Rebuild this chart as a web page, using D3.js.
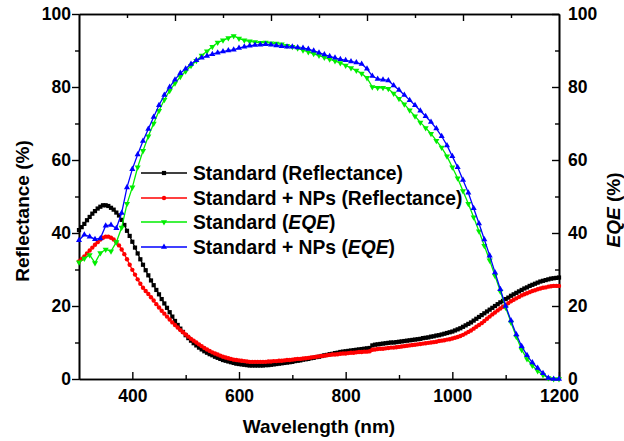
<!DOCTYPE html>
<html><head><meta charset="utf-8">
<script src="https://cdn.jsdelivr.net/npm/d3@7"></script>
<style>
body{margin:0;background:#fff}
svg text{font-family:"Liberation Sans",Arial,Helvetica,sans-serif;font-weight:bold;fill:#000}
</style>
</head><body>
<svg id="chart" width="624" height="441"></svg>
<script>
// ---------- data ----------
const reflStart = 300, reflStep = 5;   // reflectance sampled every 5 nm, 300..1200
const eqeStart = 300, eqeStep = 10;    // EQE sampled every 10 nm, 300..1200

const reflStandard = [
 40.8,41.6,42.5,43.5,44.4,45.3,46.0,46.7,47.2,47.6,
 47.6,47.4,46.9,46.4,45.6,44.8,43.6,42.2,40.6,39.2,
 37.6,36.0,34.4,32.8,31.3,29.8,28.4,27.0,25.7,24.4,
 23.2,21.9,20.7,19.5,18.3,17.1,15.9,14.8,13.8,12.9,
 12.0,11.2,10.5,9.8,9.2,8.6,8.1,7.6,7.2,6.8,
 6.5,6.1,5.8,5.5,5.2,5.0,4.8,4.6,4.4,4.2,
 4.1,4.0,3.9,3.8,3.7,3.7,3.7,3.7,3.7,3.7,
 3.8,3.8,3.9,4.0,4.1,4.2,4.3,4.4,4.5,4.6,
 4.7,4.9,5.0,5.1,5.3,5.4,5.5,5.7,5.8,6.0,
 6.1,6.3,6.5,6.6,6.8,6.9,7.1,7.2,7.4,7.5,
 7.6,7.7,7.8,7.9,8.0,8.1,8.2,8.3,8.4,8.5,
 9.2,9.4,9.5,9.6,9.7,9.8,9.9,10.0,10.0,10.1,
 10.2,10.3,10.4,10.5,10.6,10.7,10.8,10.9,11.0,11.2,
 11.3,11.4,11.6,11.7,11.9,12.0,12.2,12.4,12.6,12.8,
 13.0,13.3,13.6,13.9,14.3,14.7,15.1,15.5,16.0,16.5,
 17.0,17.5,18.0,18.5,19.0,19.5,20.0,20.5,21.0,21.4,
 21.9,22.3,22.8,23.2,23.6,24.0,24.4,24.8,25.1,25.5,
 25.8,26.1,26.4,26.7,26.9,27.1,27.3,27.5,27.6,27.7,
 27.8
];
const reflNPs = [
 32.2,32.9,33.6,34.4,35.2,36.0,36.8,37.5,38.2,38.7,
 39.0,39.0,38.7,38.2,37.5,36.6,35.5,34.2,32.8,31.3,
 29.9,28.6,27.3,26.1,25.0,24.1,23.3,22.4,21.5,20.5,
 19.6,18.7,17.9,17.1,16.3,15.5,14.8,14.1,13.4,12.8,
 12.2,11.6,11.0,10.5,10.0,9.5,9.0,8.5,8.1,7.7,
 7.3,7.0,6.7,6.4,6.1,5.9,5.7,5.5,5.3,5.2,
 5.1,5.0,4.9,4.8,4.7,4.7,4.7,4.7,4.7,4.7,
 4.7,4.8,4.8,4.9,4.9,5.0,5.0,5.1,5.2,5.2,
 5.3,5.4,5.5,5.5,5.6,5.7,5.8,5.9,6.0,6.1,
 6.2,6.3,6.4,6.5,6.6,6.7,6.7,6.8,6.9,7.0,
 7.0,7.1,7.2,7.2,7.3,7.4,7.4,7.5,7.5,7.6,
 8.0,8.1,8.2,8.3,8.3,8.4,8.5,8.6,8.6,8.7,
 8.8,8.9,9.0,9.1,9.2,9.3,9.4,9.5,9.6,9.7,
 9.8,9.9,10.0,10.1,10.2,10.4,10.5,10.6,10.8,10.9,
 11.1,11.3,11.5,11.8,12.1,12.5,12.9,13.3,13.8,14.3,
 14.8,15.3,15.9,16.5,17.1,17.7,18.2,18.8,19.3,19.8,
 20.3,20.8,21.3,21.7,22.1,22.5,22.9,23.2,23.5,23.8,
 24.1,24.3,24.6,24.8,25.0,25.1,25.3,25.4,25.5,25.5,
 25.5
];
const eqeStandard = [
 32.0,33.0,34.0,31.8,34.5,35.5,35.0,37.5,41.5,48.0,
 52.5,58.0,62.5,66.5,70.0,73.5,76.5,79.0,81.0,82.8,
 84.3,85.8,87.2,88.6,89.8,91.0,92.2,92.8,93.4,94.0,
 93.3,92.8,92.5,92.3,92.1,92.2,92.0,91.9,91.7,91.3,
 91.0,90.6,90.1,89.6,89.1,88.6,88.1,87.6,87.1,86.6,
 85.9,85.2,84.5,83.7,82.5,80.0,79.8,79.8,79.5,78.2,
 76.8,75.3,73.6,72.0,70.3,68.8,67.2,65.3,63.4,61.0,
 58.0,55.0,51.5,48.0,44.3,40.5,36.5,32.5,28.3,24.0,
 19.6,15.5,11.6,8.0,5.5,3.7,2.2,1.1,0.3,0.0,
 0.0
];
const eqeNPs = [
 38.0,39.5,39.0,38.3,38.5,42.0,42.2,41.3,45.5,52.5,
 57.5,61.5,65.2,68.5,71.8,75.0,77.8,80.0,82.0,83.8,
 85.0,86.3,87.3,88.0,88.5,89.0,89.4,89.7,90.0,90.2,
 90.7,91.0,91.3,91.5,91.6,91.7,91.6,91.4,91.2,91.0,
 91.0,90.8,90.7,90.4,89.9,89.4,88.9,88.4,88.0,87.6,
 87.3,87.0,86.7,86.3,85.0,83.0,82.2,82.0,81.8,80.4,
 79.2,77.8,76.4,75.0,73.5,72.0,70.4,68.6,66.5,64.0,
 61.0,58.0,54.5,51.0,46.8,42.6,38.2,33.8,29.2,24.6,
 20.0,16.0,12.2,9.0,6.5,4.5,3.0,1.6,0.3,0.0,
 0.0
];

const xTicks = [400, 600, 800, 1000, 1200];
const xMinorTicks = [500, 700, 900, 1100];
const yTicks = [0, 20, 40, 60, 80, 100];
const yMinorTicks = [10, 30, 50, 70, 90];
const topTicks = [500, 700, 900, 1100];
const topMinorTicks = [400, 600, 800, 1000, 1200];

const legendLabels = [
  ["Standard (", "Reflectance", ")", false],
  ["Standard + NPs (", "Reflectance", ")", false],
  ["Standard (", "EQE", ")", true],
  ["Standard + NPs (", "EQE", ")", true]
];
const colors = ["#000000", "#ff0000", "#00ee00", "#0000ff"];

// ---------- chart ----------
const svg = d3.select("#chart");
const L = 79, R = 559, T = 14, B = 379;
const x = d3.scaleLinear().domain([300, 1200]).range([L, R]);
const xTop = d3.scaleLinear().domain([300, 1300]).range([L, R]);
const yL = d3.scaleLinear().domain([0, 100]).range([B, T]);
const yR = d3.scaleLinear().domain([0, 100]).range([B, T]);

const fmt = d3.format("d");
function styleAxis(g){
  g.selectAll(".domain").attr("stroke","#000").attr("stroke-width",1.6);
  g.selectAll(".tick line").attr("stroke","#000").attr("stroke-width",1.4);
  g.selectAll(".tick text").style("font-size","17.5px");
}
// left
svg.append("g").attr("transform",`translate(${L},0)`)
  .call(d3.axisLeft(yL).tickValues(yMinorTicks).tickSize(4).tickFormat("").tickSizeOuter(0)).call(styleAxis);
svg.append("g").attr("transform",`translate(${L},0)`)
  .call(d3.axisLeft(yL).tickValues(yTicks).tickSize(7).tickPadding(1).tickFormat(fmt).tickSizeOuter(0)).call(styleAxis);
// right
svg.append("g").attr("transform",`translate(${R},0)`)
  .call(d3.axisRight(yR).tickValues(yMinorTicks).tickSize(-4).tickFormat("").tickSizeOuter(0)).call(styleAxis);
svg.append("g").attr("transform",`translate(${R},0)`)
  .call(d3.axisRight(yR).tickValues(yTicks).tickSize(-7).tickPadding(9).tickFormat(fmt).tickSizeOuter(0)).call(styleAxis);
// bottom
svg.append("g").attr("transform",`translate(0,${B})`)
  .call(d3.axisBottom(x).tickValues(xMinorTicks).tickSize(-4).tickFormat("").tickSizeOuter(0)).call(styleAxis);
svg.append("g").attr("transform",`translate(0,${B})`)
  .call(d3.axisBottom(x).tickValues(xTicks).tickSize(-7).tickPadding(11).tickFormat(fmt).tickSizeOuter(0)).call(styleAxis);
// top
svg.append("g").attr("transform",`translate(0,${T})`)
  .call(d3.axisTop(xTop).tickValues(topMinorTicks).tickSize(-4).tickFormat("").tickSizeOuter(0)).call(styleAxis);
svg.append("g").attr("transform",`translate(0,${T})`)
  .call(d3.axisTop(xTop).tickValues(topTicks).tickSize(-7).tickFormat("").tickSizeOuter(0)).call(styleAxis);

// titles
svg.append("text").attr("x",(L+R)/2).attr("y",433).attr("text-anchor","middle")
  .style("font-size","19px").text("Wavelength (nm)");
svg.append("text").attr("transform","translate(29,211) rotate(-90)").attr("text-anchor","middle")
  .style("font-size","19px").text("Reflectance (%)");
const eqeTitle = svg.append("text").attr("transform","translate(620,210) rotate(-90)").attr("text-anchor","middle")
  .style("font-size","19px");
eqeTitle.append("tspan").style("font-style","italic").text("EQE");
eqeTitle.append("tspan").text(" (%)");

// series
function pts(vals, start, step){ return vals.map((v,i)=>({w:start+i*step, v})); }
const series = [
  {data: pts(reflStandard, reflStart, reflStep), y: yL, color: colors[0], marker: "square"},
  {data: pts(reflNPs, reflStart, reflStep), y: yL, color: colors[1], marker: "circle"},
  {data: pts(eqeStandard, eqeStart, eqeStep), y: yR, color: colors[2], marker: "down"},
  {data: pts(eqeNPs, eqeStart, eqeStep), y: yR, color: colors[3], marker: "up"}
];
const tri = d3.symbol().type(d3.symbolTriangle).size(16);
function drawMarker(g, kind, color){
  if(kind==="square") g.append("rect").attr("x",-2.1).attr("y",-2.1).attr("width",4.2).attr("height",4.2).attr("fill",color);
  else if(kind==="circle") g.append("circle").attr("r",2.2).attr("fill",color);
  else if(kind==="up") g.append("path").attr("d",tri()).attr("fill",color);
  else g.append("path").attr("d",tri()).attr("transform","rotate(180)").attr("fill",color);
}
const plot = svg.append("g");
series.forEach(s=>{
  const line = d3.line().x(d=>x(d.w)).y(d=>s.y(d.v));
  plot.append("path").datum(s.data).attr("d",line).attr("fill","none")
    .attr("stroke",s.color).attr("stroke-width",1.3);
  plot.selectAll(null).data(s.data).enter().append("g")
    .attr("transform",d=>`translate(${x(d.w)},${s.y(d.v)})`)
    .each(function(){ drawMarker(d3.select(this), s.marker, s.color); });
});

// legend
const legY = [173, 198, 222, 247];
legendLabels.forEach((lab,i)=>{
  const g = svg.append("g").attr("transform",`translate(0,${legY[i]})`);
  g.append("line").attr("x1",141).attr("x2",187).attr("y1",0).attr("y2",0)
    .attr("stroke",colors[i]).attr("stroke-width",1.6);
  drawMarker(g.append("g").attr("transform","translate(164,0)"), series[i].marker, colors[i]);
  const t = g.append("text").attr("x",193).attr("dy","0.36em").style("font-size","19.3px");
  t.append("tspan").text(lab[0]);
  t.append("tspan").style("font-style", lab[3] ? "italic" : "normal").text(lab[1]);
  t.append("tspan").text(lab[2]);
});
</script>
</body></html>
